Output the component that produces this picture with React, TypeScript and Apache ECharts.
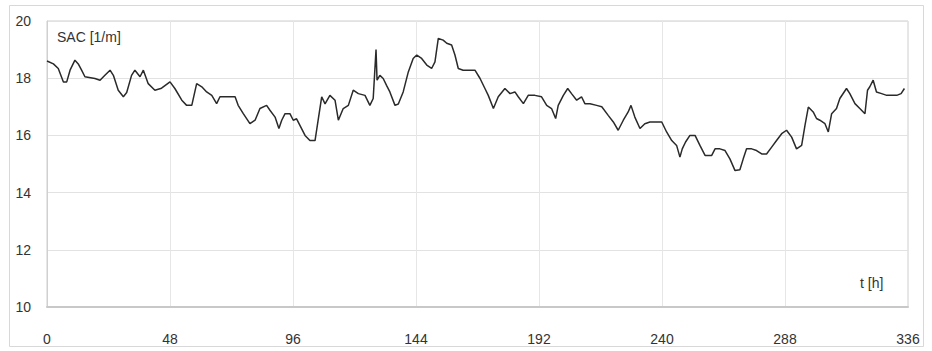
import React, { useEffect, useRef } from "react";
import * as echarts from "echarts";

const hours: number[] = [
  0, 2.5, 4.4, 6.4, 7.7, 9, 10.9, 12.2, 13.5, 14.8, 18.7, 20.7, 22.6, 24.6, 25.9, 27.8, 29.8, 31.1, 33, 34.3,
  36.3, 37.6, 39.5, 42.1, 44.7, 48, 49.9, 52.6, 54.5, 56.5, 58.4, 60.4, 62.3, 64.3, 66.2, 67.5, 70.7, 73.4, 74.6, 76.6,
  79.2, 81.2, 83.1, 85.7, 87, 89, 90.5, 91.6, 92.9, 94.8, 96.1, 97.4, 98.7, 100.7, 102.6, 104.6, 105.9, 107.2, 108.5, 110.4,
  112.4, 113.7, 115.6, 117.6, 119.5, 121.5, 124.1, 126, 127.3, 128.4, 128.8, 129.9, 131.2, 132.5, 133.8, 135.8, 137.1, 139, 141, 142.9,
  144.3, 146.2, 148.2, 150.1, 151.4, 152.7, 154.6, 156, 157.9, 159.2, 160.5, 162.4, 165.1, 167, 169, 170.9, 172.2, 174.2, 176.1, 178.7,
  180.7, 182.6, 183.9, 185.9, 187.8, 190.4, 193, 195, 196.9, 198.5, 199.5, 201.5, 203.2, 204.7, 206.7, 208.6, 209.9, 211.9, 214.5, 216.5,
  219, 221, 222.9, 224.9, 226.8, 227.9, 229.4, 231.4, 233.3, 235.3, 237.9, 239.9, 241.8, 243.8, 245.7, 247, 247.9, 249.2, 250.9, 252.9,
  254.8, 256.8, 259.4, 260.7, 262.6, 264.6, 266.5, 268.5, 270.4, 271.7, 273, 275, 276.9, 278.9, 280.8, 282.8, 284.7, 286.7, 288.6, 290.6,
  292.5, 294.5, 295.8, 297.1, 299, 300.3, 301.6, 303.6, 304.9, 306.2, 308.1, 309.4, 312, 313.3, 315.3, 317.2, 319.2, 320.2, 321.1, 322.4,
  323.7, 325.7, 327.7, 329.6, 331.6, 333.3, 334.6,
];

const sac: number[] = [
  18.6, 18.5, 18.34, 17.87, 17.87, 18.28, 18.63, 18.5, 18.28, 18.05, 17.99, 17.93, 18.1, 18.28, 18.1, 17.58, 17.35, 17.5, 18.1, 18.28,
  18.05, 18.28, 17.81, 17.58, 17.65, 17.87, 17.64, 17.23, 17.05, 17.05, 17.81, 17.7, 17.52, 17.4, 17.11, 17.35, 17.35, 17.35, 17.05, 16.76,
  16.41, 16.53, 16.94, 17.05, 16.88, 16.64, 16.24, 16.53, 16.76, 16.76, 16.53, 16.58, 16.35, 16.0, 15.82, 15.82, 16.59, 17.35, 17.1, 17.4,
  17.23, 16.53, 16.94, 17.05, 17.58, 17.46, 17.4, 17.05, 17.29, 19.0, 17.93, 18.1, 17.99, 17.75, 17.52, 17.05, 17.1, 17.52, 18.22, 18.69,
  18.81, 18.69, 18.46, 18.34, 18.57, 19.39, 19.33, 19.22, 19.16, 18.81, 18.34, 18.28, 18.28, 18.28, 17.99, 17.64, 17.4, 16.94, 17.35, 17.64,
  17.46, 17.52, 17.35, 17.11, 17.4, 17.4, 17.35, 17.05, 16.94, 16.59, 17.05, 17.4, 17.64, 17.46, 17.23, 17.35, 17.11, 17.11, 17.05, 17.0,
  16.7, 16.47, 16.18, 16.53, 16.82, 17.05, 16.64, 16.24, 16.41, 16.47, 16.47, 16.47, 16.12, 15.82, 15.65, 15.24, 15.53, 15.77, 16.0, 16.0,
  15.65, 15.3, 15.3, 15.53, 15.53, 15.47, 15.18, 14.77, 14.8, 15.18, 15.53, 15.53, 15.47, 15.35, 15.35, 15.59, 15.82, 16.06, 16.18, 15.94,
  15.53, 15.65, 16.35, 16.99, 16.82, 16.59, 16.53, 16.41, 16.12, 16.76, 16.94, 17.29, 17.64, 17.46, 17.11, 16.94, 16.76, 17.58, 17.7, 17.93,
  17.52, 17.46, 17.4, 17.4, 17.4, 17.46, 17.64,
];

const xTicks: number[] = [0, 48, 96, 144, 192, 240, 288, 336];
const yTicks: number[] = [10, 12, 14, 16, 18, 20];

const yTitle = "SAC [1/m]";
const xTitle = "t [h]";

export default function App() {
  const ref = useRef<HTMLDivElement>(null);
  useEffect(() => {
    if (!ref.current) return;
    const chart = echarts.init(ref.current, undefined, { renderer: "svg" });
    const font = "'Liberation Sans', Arial, sans-serif";
    chart.setOption({
      animation: false,
      backgroundColor: "#ffffff",
      grid: {
        left: 47,
        right: 24,
        top: 21,
        bottom: 44,
        show: true,
        borderColor: "#cfcfcf",
        borderWidth: 1,
      },
      xAxis: {
        type: "value",
        min: xTicks[0],
        max: xTicks[xTicks.length - 1],
        interval: 48,
        axisLine: { show: true, lineStyle: { color: "#c8c8c8", width: 2 } },
        axisTick: { show: false },
        splitLine: { show: true, lineStyle: { color: "#e6e6e6", width: 1 } },
        axisLabel: { color: "#333", fontSize: 14, fontFamily: font, margin: 25 },
      },
      yAxis: {
        type: "value",
        min: yTicks[0],
        max: yTicks[yTicks.length - 1],
        interval: 2,
        axisLine: { show: true, lineStyle: { color: "#d0d0d0", width: 1 } },
        axisTick: { show: false },
        splitLine: { show: true, lineStyle: { color: "#e2e2e2", width: 1 } },
        axisLabel: { color: "#333", fontSize: 14, fontFamily: font, margin: 16 },
      },
      graphic: [
        {
          type: "rect",
          shape: { x: 9.5, y: 5.5, width: 914, height: 341 },
          style: { fill: "none", stroke: "#d8d8d8", lineWidth: 1 },
          silent: true,
        },
        {
          type: "text",
          x: 57,
          y: 30,
          style: { text: yTitle, fill: "#333", font: `14px ${font}` },
        },
        {
          type: "text",
          x: 860,
          y: 276,
          style: { text: xTitle, fill: "#333", font: `14px ${font}` },
        },
      ],
      series: [
        {
          type: "line",
          data: hours.map((h, i) => [h, sac[i]]),
          showSymbol: false,
          lineStyle: { color: "#2a2a2a", width: 1.5 },
        },
      ],
    });
    return () => chart.dispose();
  }, []);
  return (
    <div
      ref={ref}
      style={{ position: "absolute", left: 0, top: 0, width: 932, height: 351 }}
    />
  );
}
